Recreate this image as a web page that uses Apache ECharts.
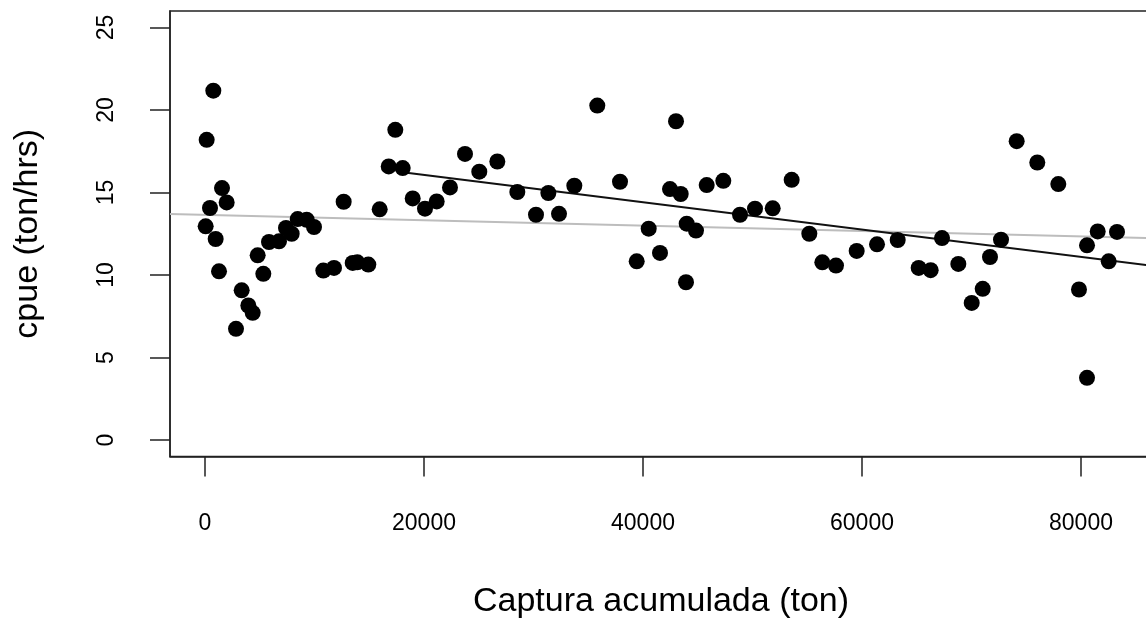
<!DOCTYPE html>
<html>
<head>
<meta charset="utf-8">
<script src="https://cdn.jsdelivr.net/npm/echarts@6/dist/echarts.min.js"></script>
<style>
html,body{margin:0;padding:0;background:#fff;}
#chart{width:1146px;height:626px;}
</style>
</head>
<body>
<div id="chart"></div>
<script>
// Cumulative catch (ton)
var cumCatch = [61, 153, 457, 760, 974, 1279, 1553, 1979, 2831, 3349, 3957, 4356, 4810, 5327, 5845, 6758, 7397, 7915, 8463, 9285, 9954, 10807, 11781, 12664, 13489, 13909, 14914, 15954, 16776, 17379, 18055, 18968, 20091, 21159, 22374, 23744, 25050, 26697, 28523, 30228, 31356, 32329, 33729, 35826, 37900, 39425, 40520, 41553, 42466, 43014, 43443, 43927, 43991, 44840, 45817, 47334, 48858, 50228, 51845, 53577, 55190, 56377, 57626, 59513, 61370, 63260, 65175, 66271, 67306, 68798, 70019, 71023, 71689, 72694, 74125, 76009, 77927, 79817, 80548, 80548, 81525, 82530, 83288];
// CPUE (ton/hrs)
var cpue = [12.95, 18.19, 14.06, 21.17, 12.18, 10.22, 15.27, 14.40, 6.74, 9.07, 8.15, 7.71, 11.19, 10.07, 12.00, 12.04, 12.85, 12.50, 13.39, 13.35, 12.91, 10.27, 10.43, 14.44, 10.73, 10.77, 10.63, 13.98, 16.58, 18.80, 16.48, 14.64, 14.02, 14.46, 15.31, 17.34, 16.26, 16.88, 15.03, 13.65, 14.97, 13.71, 15.41, 20.27, 15.65, 10.83, 12.81, 11.34, 15.21, 19.32, 14.91, 9.56, 13.11, 12.69, 15.45, 15.71, 13.65, 14.02, 14.04, 15.77, 12.50, 10.77, 10.57, 11.46, 11.86, 12.12, 10.43, 10.29, 12.24, 10.67, 8.31, 9.16, 11.09, 12.14, 18.11, 16.82, 15.51, 9.12, 3.77, 11.80, 12.64, 10.83, 12.61];
// Tick labels
var xTicks = [0, 20000, 40000, 60000, 80000];
var yTicks = [0, 5, 10, 15, 20, 25];
// Fitted lines: [intercept, slope]
var fitAll = [13.65, -1.645e-5];
var fitLate = [17.73, -8.29e-5];
var fitLateStart = [18055];

var xMin = -3196, xMax = 86484, yMin = -1, yMax = 26;

var points = cumCatch.map(function (x, i) { return [x, cpue[i]]; });
function lineData(fit, x0, x1) {
  return [[x0, fit[0] + fit[1] * x0], [x1, fit[0] + fit[1] * x1]];
}
function plain(v) { return String(v); }

var font = 'Liberation Sans, Arial, Helvetica, sans-serif';
var axisColor = '#222';

var chart = echarts.init(document.getElementById('chart'), null, {renderer: 'canvas'});
chart.setOption({
  animation: false,
  backgroundColor: '#fff',
  grid: {
    left: 170, top: 11, width: 982, height: 445.5,
    show: true, borderColor: axisColor, borderWidth: 1.5,
    containLabel: false, outerBoundsMode: 'none'
  },
  xAxis: {
    type: 'value', min: xMin, max: xMax,
    name: 'Captura acumulada (ton)', nameLocation: 'middle', nameGap: 128,
    nameTextStyle: {fontFamily: font, fontSize: 34, color: '#000'},
    axisLine: {show: true, onZero: false, lineStyle: {color: axisColor, width: 1.5}},
    axisTick: {show: true, inside: false, length: 20, customValues: xTicks, lineStyle: {color: axisColor, width: 1.5}},
    axisLabel: {show: true, customValues: xTicks, formatter: plain, margin: 56, fontFamily: font, fontSize: 23, color: '#000'},
    splitLine: {show: false}
  },
  yAxis: {
    type: 'value', min: yMin, max: yMax,
    name: 'cpue (ton/hrs)', nameLocation: 'middle', nameGap: 125, nameRotate: 90,
    nameTextStyle: {fontFamily: font, fontSize: 34, color: '#000'},
    axisLine: {show: true, onZero: false, lineStyle: {color: axisColor, width: 1.5}},
    axisTick: {show: true, inside: false, length: 20, customValues: yTicks, lineStyle: {color: axisColor, width: 1.5}},
    axisLabel: {show: true, customValues: yTicks, formatter: plain, rotate: 90, margin: 52, fontFamily: font, fontSize: 23, color: '#000'},
    splitLine: {show: false}
  },
  series: [
    {
      type: 'line', data: lineData(fitAll, xMin, xMax), showSymbol: false, symbol: 'none',
      lineStyle: {color: '#bdbdbd', width: 2}, z: 1, silent: true
    },
    {
      type: 'line', data: lineData(fitLate, fitLateStart[0], xMax), showSymbol: false, symbol: 'none',
      lineStyle: {color: '#111', width: 2}, z: 2, silent: true
    },
    {
      type: 'scatter', data: points, symbol: 'circle', symbolSize: 16,
      itemStyle: {color: '#000', opacity: 1}, z: 3
    }
  ]
});
</script>
</body>
</html>
